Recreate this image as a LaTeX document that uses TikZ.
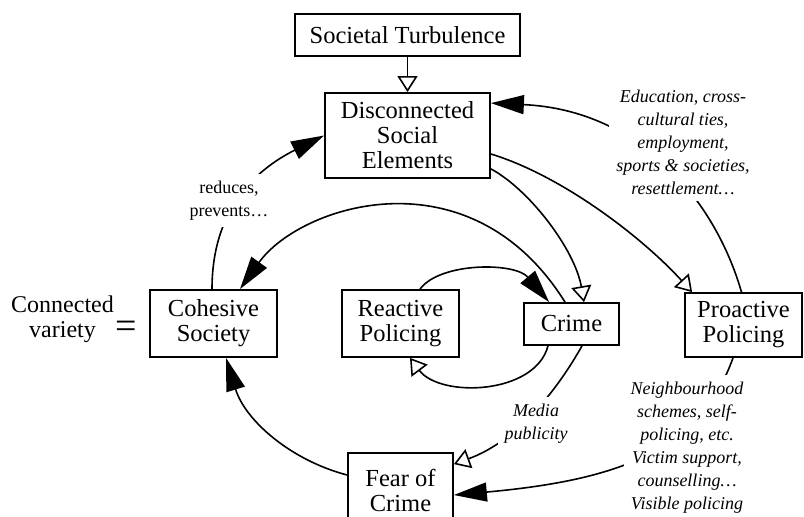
\documentclass[tikz,border=0pt]{standalone}
\usepackage{fontspec}
\setmainfont{Liberation Serif}
\usetikzlibrary{arrows.meta}
\begin{document}
\begin{tikzpicture}[x=1pt,y=-1pt,
  box/.style={draw, line width=1.8pt, inner sep=0pt, align=center, font=\fontsize{24.5}{25}\selectfont},
  lbl/.style={fill=white, inner sep=7pt, align=center, font=\fontsize{18}{23}\selectfont\itshape},
  conn/.style={line width=1.6pt},
  filledarrow/.style={conn, -{Triangle[length=33pt,width=19pt]}},
  openarrow/.style={conn, -{Triangle[open,length=16pt,width=20pt]}}
]
\useasboundingbox (0,0) rectangle (804,517);

% boxes
\node[box, minimum width=225pt, minimum height=42pt] (turb) at (407.5,35) {Societal Turbulence};
\node[box, minimum width=165pt, minimum height=85pt] (disc) at (407.5,135.5) {Disconnected\\Social\\Elements};
\node[box, minimum width=127pt, minimum height=67pt] (coh) at (213.5,323.5) {Cohesive\\Society};
\node[box, minimum width=117pt, minimum height=67pt] (react) at (400.5,323.5) {Reactive\\Policing};
\node[box, minimum width=95pt, minimum height=42pt] (crime) at (571.5,324) {Crime};
\node[box, minimum width=117pt, minimum height=64pt] (proact) at (743.5,325) {Proactive\\Policing};
\node[box, minimum width=105pt, minimum height=74pt] (fear) at (400.5,490) {Fear of\\Crime};

% left text
\node[font=\fontsize{24}{25}\selectfont, align=center, inner sep=0pt] (cv) at (62.5,319) {Connected\\variety};
\node[font=\fontsize{38}{40}\selectfont, inner sep=0pt] (eq) at (126,330) {=};

% connectors
\draw[openarrow] (turb.south) -- (disc.north);
\draw[filledarrow] ([xshift=-2pt]proact.north) .. controls (715,200) and (640,110) .. ([yshift=-11pt]disc.north east);
\draw[filledarrow] ([xshift=-1.5pt]coh.north) .. controls (212,210) and (255,170) .. (disc.west);
\draw[openarrow] ([yshift=-18.5pt]disc.east) .. controls (560,175) and (640,235) .. ([xshift=8pt]proact.north west);
\draw[openarrow] ([yshift=10pt]disc.south east) .. controls (530,190) and (575,250) .. ([xshift=12.5pt]crime.north);
\draw[filledarrow] ([xshift=-6.5pt]crime.north) .. controls (470,150) and (300,205) .. ([xshift=26.5pt]coh.north);
\draw[filledarrow] ([xshift=19.5pt]react.north) .. controls (440,262) and (515,262) .. ([xshift=26pt]crime.north west);
\draw[openarrow] ([xshift=-23.5pt]crime.south) .. controls (535,395) and (440,398) .. ([xshift=9.5pt]react.south);
\draw[openarrow] ([xshift=10.5pt]crime.south) .. controls (560,385) and (520,440) .. ([yshift=-12pt]fear.north east);
\draw[filledarrow] ([xshift=-10.5pt]proact.south) .. controls (700,450) and (620,480) .. ([yshift=-5pt]fear.east);
\draw[filledarrow] ([yshift=15pt]fear.west) .. controls (290,460) and (245,420) .. ([xshift=12.5pt]coh.south);

% labels
\node[lbl] (edu) at (683,142) {Education, cross-\\cultural ties,\\employment,\\sports \& societies,\\resettlement…};
\node[lbl, font=\fontsize{18}{23}\selectfont] (red) at (229,200.5) {reduces,\\prevents…};
\node[lbl] (media) at (536,423.5) {Media\\publicity};
\node[lbl] (nb) at (687,447.5) {Neighbourhood\\schemes, self-\\policing, etc.\\Victim support,\\counselling…\\Visible policing};
\end{tikzpicture}
\end{document}
